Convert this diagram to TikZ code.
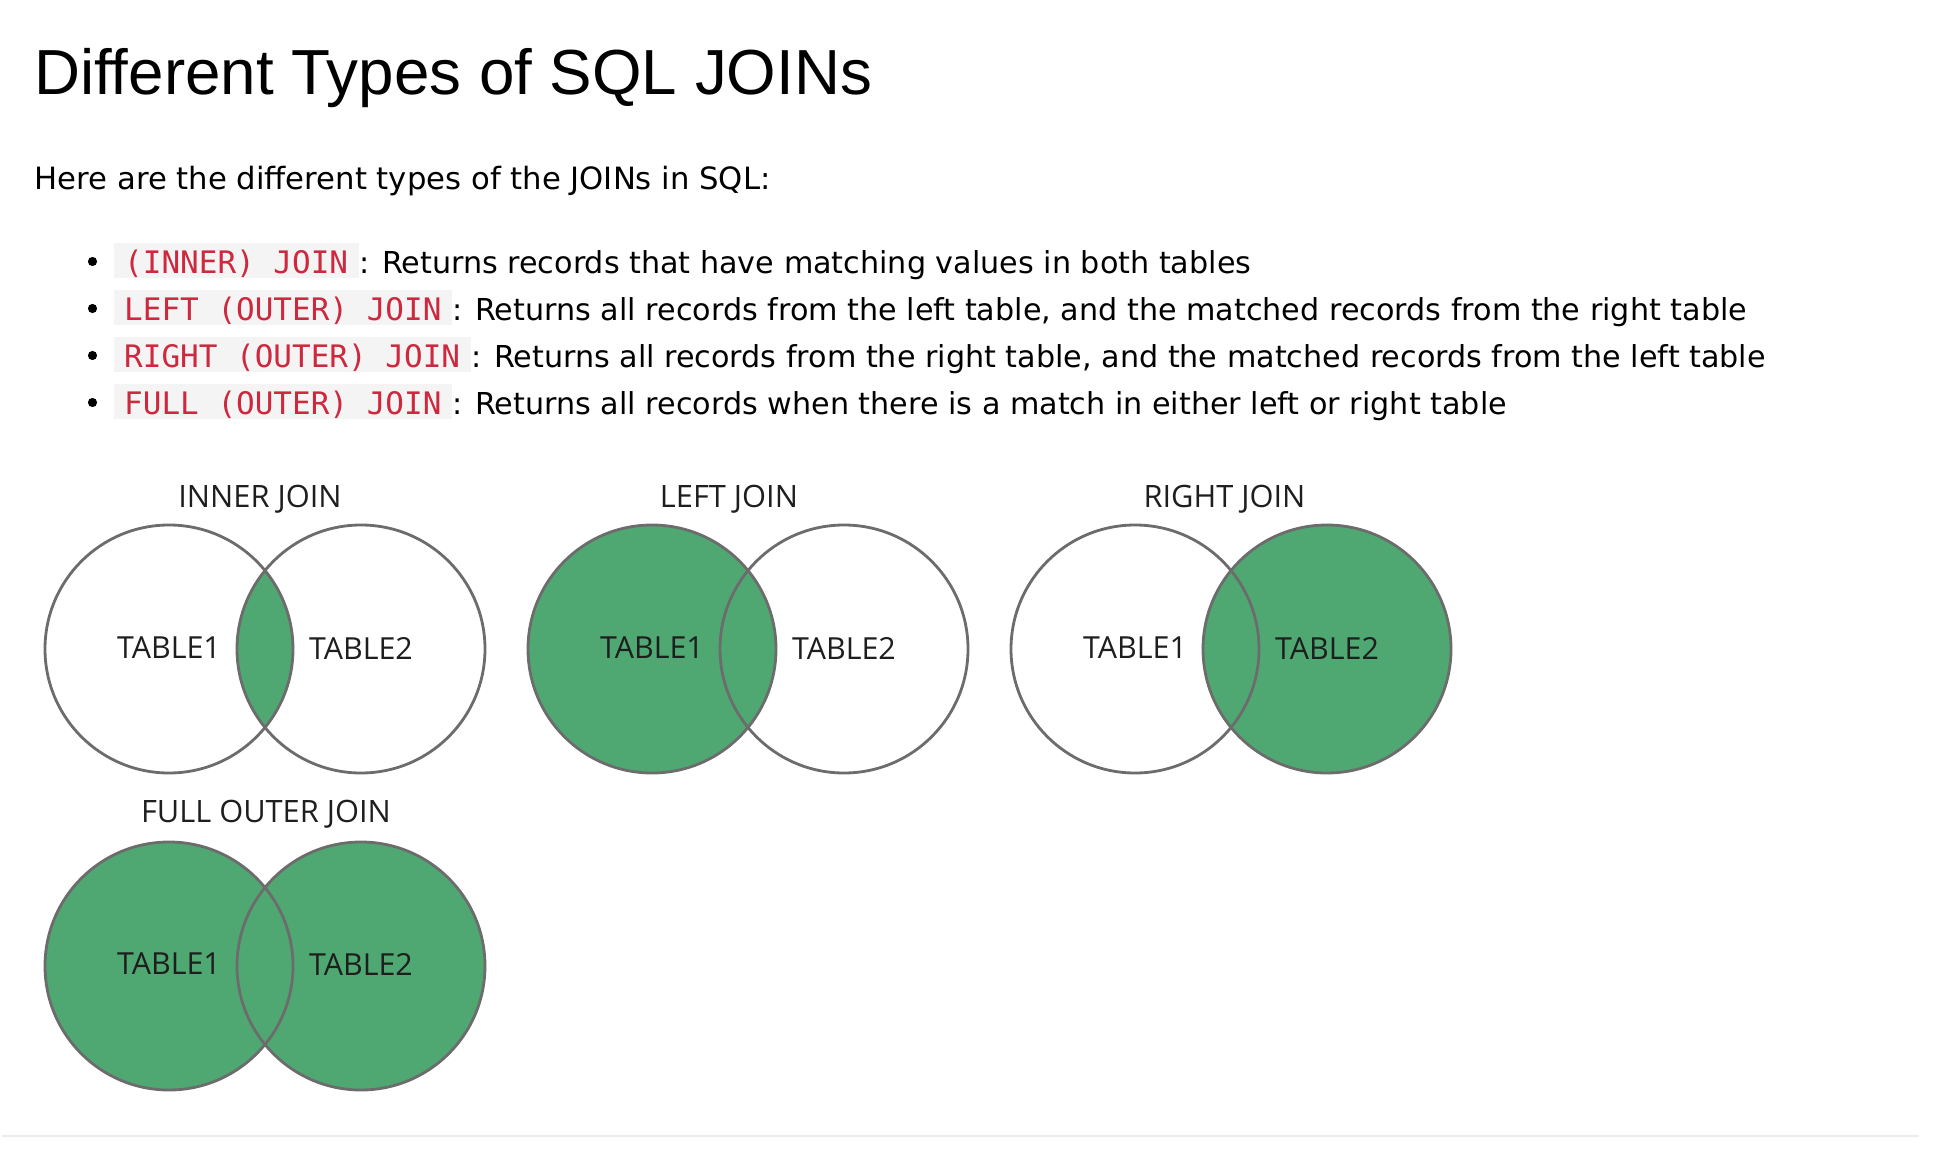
\documentclass[tikz,border=0pt]{standalone}
\usepackage{fontspec}
\newfontfamily\titlefont{Liberation Sans}
\newfontfamily\bodyfont{DejaVu Sans}
\newfontfamily\codefont{DejaVu Sans Mono}
\newfontfamily\vennfont{Open Sans}
\definecolor{vgreen}{RGB}{79,168,114}
\definecolor{vline}{RGB}{108,108,108}
\definecolor{codered}{RGB}{205,40,62}
\definecolor{codebg}{RGB}{244,244,244}
\definecolor{rulegray}{RGB}{235,235,235}
\definecolor{vtext}{RGB}{30,30,30}
\begin{document}
\begin{tikzpicture}[x=1pt,y=-1pt,
  titletext/.style={anchor=base west, inner sep=0pt, font=\titlefont\fontsize{63.7}{70}\selectfont},
  bodytext/.style={anchor=base west, inner sep=0pt, font=\bodyfont\fontsize{30.7}{36}\selectfont},
  desctext/.style={anchor=base west, inner sep=0pt, font=\bodyfont\fontsize{30.2}{36}\selectfont},
  codebox/.style={anchor=base west, fill=codebg, text=codered, inner xsep=10.5pt, inner ysep=0pt, text height=30pt, text depth=5pt, font=\codefont\fontsize{31}{36}\selectfont},
  bulletdot/.style={circle, fill=black, inner sep=0pt, minimum size=9.2pt},
  venntitle/.style={anchor=base, inner sep=0pt, text=vtext, font=\vennfont\fontsize{30.8}{36}\selectfont},
  tablelabel/.style={inner sep=0pt, text=vtext, font=\vennfont\fontsize{30.4}{36}\selectfont},
  ring/.style={draw=vline, line width=2.8pt},
  greenfill/.style={fill=vgreen}
]
\useasboundingbox[fill=white] (0,0) rectangle (1934,1150);

% title and intro
\node[titletext] (title) at (34,95) {Different Types of SQL JOINs};
\node[bodytext] (intro) at (34.5,190) {Here are the different types of the JOINs in SQL:};

% bullet list
\node[bulletdot] (b1) at (92.5,261.5) {};
\node[codebox] (c1) at (113.5,273) {(INNER) JOIN};
\node[desctext] (d1) at (c1.base east) {: Returns records that have matching values in both tables};

\node[bulletdot] (b2) at (92.5,308.5) {};
\node[codebox] (c2) at (113.5,320) {LEFT (OUTER) JOIN};
\node[desctext] (d2) at (c2.base east) {: Returns all records from the left table, and the matched records from the right table};

\node[bulletdot] (b3) at (92.5,355.5) {};
\node[codebox] (c3) at (113.5,367) {RIGHT (OUTER) JOIN};
\node[desctext] (d3) at (c3.base east) {: Returns all records from the right table, and the matched records from the left table};

\node[bulletdot] (b4) at (92.5,402.5) {};
\node[codebox] (c4) at (113.5,414) {FULL (OUTER) JOIN};
\node[desctext] (d4) at (c4.base east) {: Returns all records when there is a match in either left or right table};

% circle centres
\coordinate (i1) at (169,649);  \coordinate (i2) at (361,649);
\coordinate (l1) at (652,649);  \coordinate (l2) at (844,649);
\coordinate (r1) at (1135,649); \coordinate (r2) at (1327,649);
\coordinate (f1) at (169,966);  \coordinate (f2) at (361,966);

% fills
\begin{scope}
  \clip (i1) circle (124);
  \fill[greenfill] (i2) circle (124);
\end{scope}
\fill[greenfill] (l1) circle (124);
\fill[greenfill] (r2) circle (124);
\fill[greenfill] (f1) circle (124);
\fill[greenfill] (f2) circle (124);

% rings
\foreach \c in {i1,i2,l1,l2,r1,r2,f1,f2} {
  \draw[ring] (\c) circle (124);
}

% venn titles
\node[venntitle] (tinner) at (260,507) {INNER JOIN};
\node[venntitle] (tleft) at (729,507) {LEFT JOIN};
\node[venntitle] (tright) at (1224.5,507) {RIGHT JOIN};
\node[venntitle] (tfull) at (266,822) {FULL OUTER JOIN};

% table labels
\node[tablelabel] (ia) at (169,648) {TABLE1};
\node[tablelabel] (ib) at (361,648) {TABLE2};
\node[tablelabel] (la) at (652,648) {TABLE1};
\node[tablelabel] (lb) at (844,648) {TABLE2};
\node[tablelabel] (ra) at (1135,648) {TABLE1};
\node[tablelabel] (rb) at (1327,648) {TABLE2};
\node[tablelabel] (fa) at (169,964) {TABLE1};
\node[tablelabel] (fb) at (361,964) {TABLE2};

% bottom rule
\coordinate (ruleL) at (2,1136);
\coordinate (ruleR) at (1919,1136);
\draw[rulegray, line width=2.5pt] (ruleL) -- (ruleR);
\end{tikzpicture}
\end{document}
